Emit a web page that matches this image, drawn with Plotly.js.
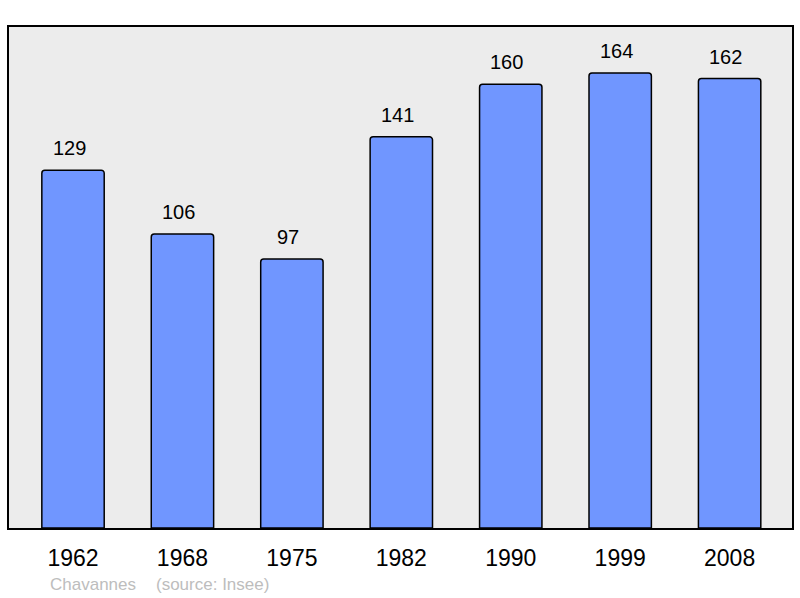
<!DOCTYPE html>
<html><head><meta charset="utf-8">
<script src="https://cdn.plot.ly/plotly-3.0.1.min.js"></script>
<style>html,body{margin:0;padding:0;background:#fff}#c{width:800px;height:598px}</style>
</head><body><div id="c"></div>
<script>
const years = ["1962","1968","1975","1982","1990","1999","2008"];
const population = [129,106,97,141,160,164,162];
const sourceCommune = "Chavannes";
const sourceText = "(source: Insee)";

const FONT = 'Liberation Sans, Arial, sans-serif';
const annotations = years.map((y,i)=>({
  x: i, y: population[i], xref:'x', yref:'y', text: String(population[i]),
  showarrow:false, yanchor:'bottom', yshift:9, xshift:-4,
  font:{family:FONT, size:20, color:'#000'}
}));
const px2x = p => (p-9)/783;
const py2y = p => (528-p)/501;
annotations.push({
  x: px2x(48), y: py2y(584), xref:'paper', yref:'paper', text: sourceCommune, showarrow:false,
  xanchor:'left', yanchor:'middle', font:{family:FONT, size:17, color:'#bdbdbd'}
});
annotations.push({
  x: px2x(154), y: py2y(584), xref:'paper', yref:'paper', text: sourceText, showarrow:false,
  xanchor:'left', yanchor:'middle', font:{family:FONT, size:17, color:'#bdbdbd'}
});

Plotly.newPlot('c', [{
  type:'bar', x: years, y: population, width:0.57,
  marker:{color:'#7096ff', line:{color:'#000', width:1.5}},
  hoverinfo:'none'
}], {
  width:800, height:598,
  margin:{l:9, r:8, t:27, b:70},
  paper_bgcolor:'#fff', plot_bgcolor:'#ececec',
  barcornerradius:3,
  showlegend:false,
  xaxis:{type:'category', range:[-0.585,6.57], showgrid:false, zeroline:false,
    showline:true, mirror:true, linecolor:'#000', linewidth:2, ticks:'',
    ticklabelstandoff:8,
    tickfont:{family:FONT, size:23, color:'#000'}},
  yaxis:{range:[0,180.6], showgrid:false, zeroline:false, showticklabels:false,
    showline:true, mirror:true, linecolor:'#000', linewidth:2, ticks:''},
  annotations: annotations
}, {staticPlot:true});
</script></body></html>
